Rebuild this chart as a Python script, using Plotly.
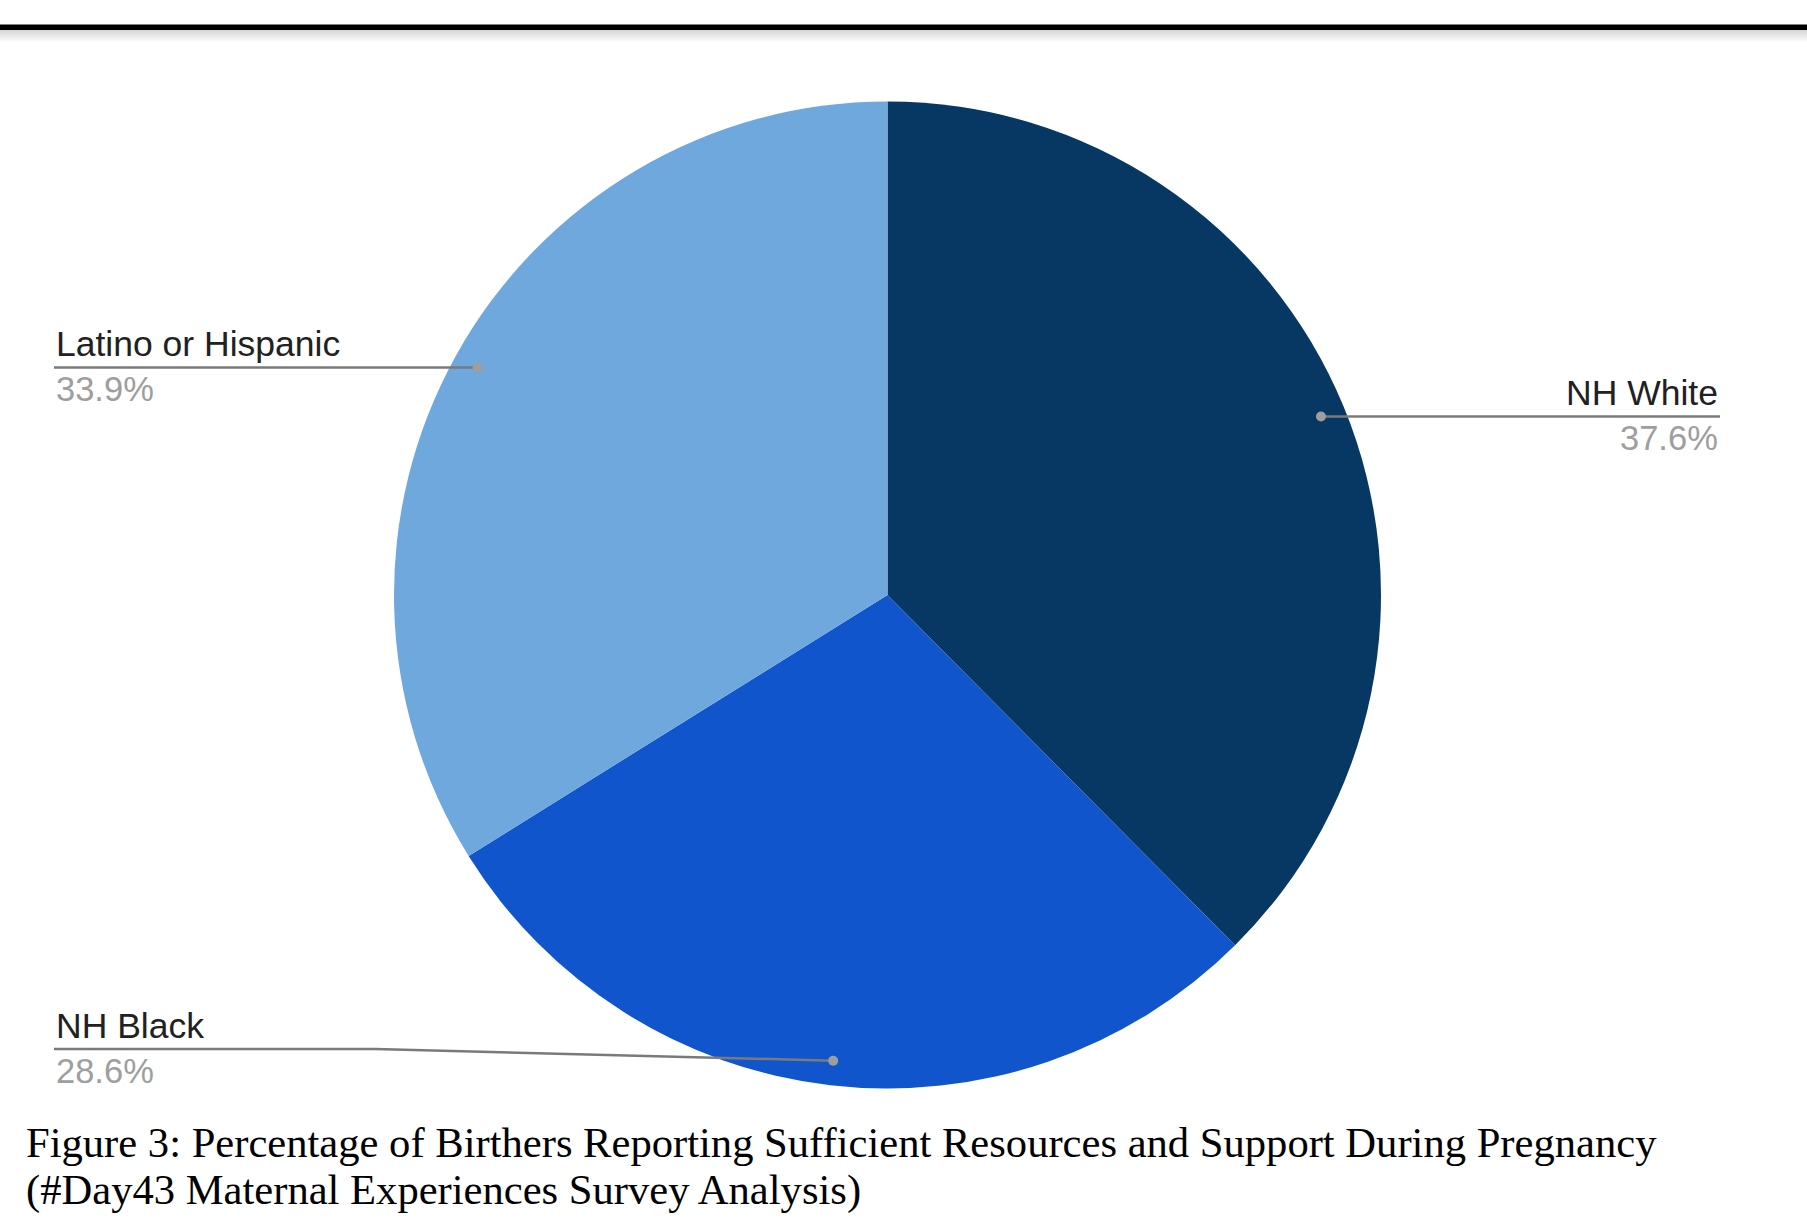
import math
import plotly.graph_objects as go

# ---------------- data ----------------
categories = ["NH White", "NH Black", "Latino or Hispanic"]
values = [37.6, 28.6, 33.9]
value_labels = ["37.6%", "28.6%", "33.9%"]
colors = ["#073763", "#1155cc", "#6fa8dc"]
label_sides = ["right", "left", "left"]
caption_lines = [
    "Figure 3: Percentage of Birthers Reporting Sufficient Resources and Support During Pregnancy",
    "(#Day43 Maternal Experiences Survey Analysis)",
]

# ---------------- layout constants (pixels) ----------------
W, H = 1807, 1232
CX, CY, R = 887.5, 595.0, 493.5
LEFT_X, RIGHT_X = 54.0, 1720.0
BOTTOM_LABEL_Y = 1049.0
ELBOW_X = 375.0
LINE_COLOR = "#7a7a7a"
DOT_COLOR = "#9e9e9e"

fig = go.Figure()
fig.add_trace(go.Pie(
    labels=categories, values=values, sort=False, direction="clockwise", rotation=0,
    marker=dict(colors=colors, line=dict(width=0)),
    textinfo="none", hoverinfo="label+percent", showlegend=False,
    domain=dict(x=[(CX - R) / W, (CX + R) / W], y=[1 - (CY + R) / H, 1 - (CY - R) / H]),
))

# leader anchor points computed from the data
total = sum(values)
cum = 0.0
dots = []
for v in values:
    mid = (cum + v / 2) / total * 2 * math.pi
    cum += v
    dots.append((CX + 0.95 * R * math.sin(mid), CY - 0.95 * R * math.cos(mid)))

fig.add_trace(go.Scatter(x=[d[0] for d in dots], y=[d[1] for d in dots], mode="markers",
                         marker=dict(opacity=0), hoverinfo="skip", showlegend=False))

shapes = []
annotations = []
for cat, pct, side, (dx, dy) in zip(categories, value_labels, label_sides, dots):
    line_y = min(dy, BOTTOM_LABEL_Y)
    if side == "left":
        if abs(line_y - dy) > 0.5:
            path = f"M {LEFT_X},{line_y} L {ELBOW_X},{line_y} L {dx},{dy}"
        else:
            path = f"M {LEFT_X},{line_y} L {dx},{dy}"
        tx, anchor = LEFT_X, "left"
    else:
        path = f"M {dx},{dy} L {RIGHT_X},{line_y}"
        tx, anchor = RIGHT_X, "right"
    shapes.append(dict(type="path", path=path, xref="x", yref="y", layer="above",
                       line=dict(color=LINE_COLOR, width=2.5)))
    shapes.append(dict(type="circle", xref="x", yref="y", layer="above",
                       x0=dx - 5, x1=dx + 5, y0=dy - 5, y1=dy + 5,
                       fillcolor=DOT_COLOR, line=dict(width=0)))
    annotations.append(dict(x=tx, y=line_y - 1, xref="x", yref="y", text=cat,
                            showarrow=False, xanchor=anchor, yanchor="bottom",
                            font=dict(family="Liberation Sans, Arial", size=35.5, color="#212121")))
    annotations.append(dict(x=tx, y=line_y + 1, xref="x", yref="y", text=pct,
                            showarrow=False, xanchor=anchor, yanchor="top",
                            font=dict(family="Liberation Sans, Arial", size=34.5, color="#9e9e9e")))

# caption
for line, yb in zip(caption_lines, [1167.5, 1215.5]):
    annotations.append(dict(x=24, y=yb, xref="x", yref="y", text=line, showarrow=False,
                            xanchor="left", yanchor="bottom",
                            font=dict(family="Liberation Serif, Times New Roman", size=42.6, color="#000000")))

# top rule with soft shadow
shapes.append(dict(type="rect", xref="paper", yref="y", x0=0, x1=1, y0=24.5, y1=30,
                   fillcolor="#000000", line=dict(width=0), layer="above"))
for i in range(10):
    a = 0.16 * (1 - i / 10)
    shapes.append(dict(type="rect", xref="paper", yref="y", x0=0, x1=1,
                       y0=30 + i * 1.2, y1=30 + (i + 1) * 1.2,
                       fillcolor=f"rgba(0,0,0,{a:.3f})", line=dict(width=0), layer="above"))

fig.update_layout(
    width=W, height=H, margin=dict(l=0, r=0, t=0, b=0),
    paper_bgcolor="white", plot_bgcolor="white", showlegend=False,
    xaxis=dict(range=[0, W], visible=False, fixedrange=True, domain=[0, 1]),
    yaxis=dict(range=[H, 0], visible=False, fixedrange=True, domain=[0, 1]),
    shapes=shapes, annotations=annotations,
)

fig.write_html("out.html")
